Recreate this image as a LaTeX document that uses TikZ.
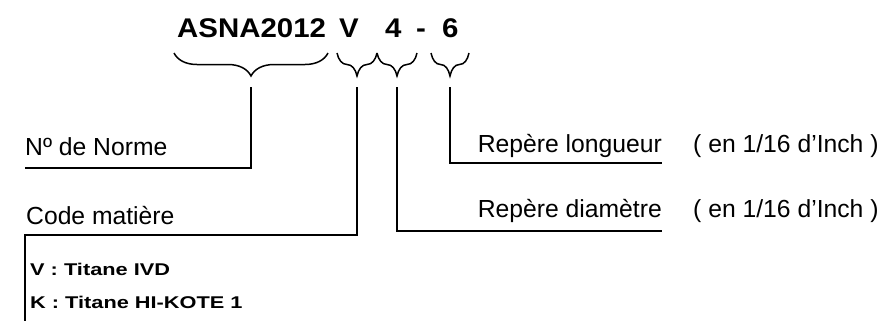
\documentclass[tikz,border=0pt]{standalone}
\usepackage{fontspec}
\setmainfont{Liberation Sans}
\usetikzlibrary{decorations.pathreplacing}
\begin{document}
\begin{tikzpicture}[x=1pt,y=-1pt,
  titlet/.style={inner sep=0pt,anchor=base west,font=\fontsize{27}{27}\selectfont\bfseries},
  lab/.style={inner sep=0pt,font=\fontsize{24.7}{26}\selectfont},
  small/.style={inner sep=0pt,anchor=base west,font=\fontsize{17}{18}\selectfont\bfseries},
  bracepath/.style={line width=1.5pt,decorate,decoration={brace,mirror,amplitude=23pt}},
  conn/.style={line width=1.6pt}]
\useasboundingbox (0,0) rectangle (894,322);
% title
\node[titlet] (tA) at (177,37) {\scalebox{1.09}[1]{ASNA2012}};
\node[titlet] (tV) at (339,37) {\scalebox{1.09}[1]{V}};
\node[titlet] (t4) at (385,37) {\scalebox{1.09}[1]{4}};
\node[titlet] (tdash) at (416,37) {\scalebox{1.09}[1]{-}};
\node[titlet] (t6) at (442,37) {\scalebox{1.09}[1]{6}};
% braces
\coordinate (b1a) at (174,53); \coordinate (b1b) at (328,53);
\coordinate (b2a) at (337,53); \coordinate (b2b) at (377,53);
\coordinate (b3a) at (377,53); \coordinate (b3b) at (417,53);
\coordinate (b4a) at (431,53); \coordinate (b4b) at (469,53);
\draw[bracepath] (b1a) -- (b1b);
\draw[bracepath] (b2a) -- (b2b);
\draw[bracepath] (b3a) -- (b3b);
\draw[bracepath] (b4a) -- (b4b);
% labels
\node[lab,anchor=base west] (norme) at (25,155) {Nº de Norme};
\node[lab,anchor=base west] (code) at (26,224) {Code matière};
\node[lab,anchor=base east] (longueur) at (662,152) {Repère longueur};
\node[lab,anchor=base east] (diam) at (662,217) {Repère diamètre};
\node[lab,anchor=base west] (unit1) at (693,152) {( en 1/16 d'Inch )};
\node[lab,anchor=base west] (unit2) at (693,217) {( en 1/16 d'Inch )};
\node[small] (mv) at (30,275) {\scalebox{1.28}[1]{V : Titane IVD}};
\node[small] (mk) at (30,308) {\scalebox{1.28}[1]{K : Titane HI-KOTE 1}};
% connectors
\coordinate (c1) at (251,87); \coordinate (c1e) at (25,168);
\coordinate (c2) at (357,87); \coordinate (c2e) at (25,321);
\coordinate (c3) at (397,87); \coordinate (c3e) at (662,231);
\coordinate (c4) at (450,87); \coordinate (c4e) at (662,163);
\draw[conn] (c1) |- (c1e);
\draw[conn] (c2) |- (25,235) -- (c2e);
\draw[conn] (c3) |- (c3e);
\draw[conn] (c4) |- (c4e);
\end{tikzpicture}
\end{document}
